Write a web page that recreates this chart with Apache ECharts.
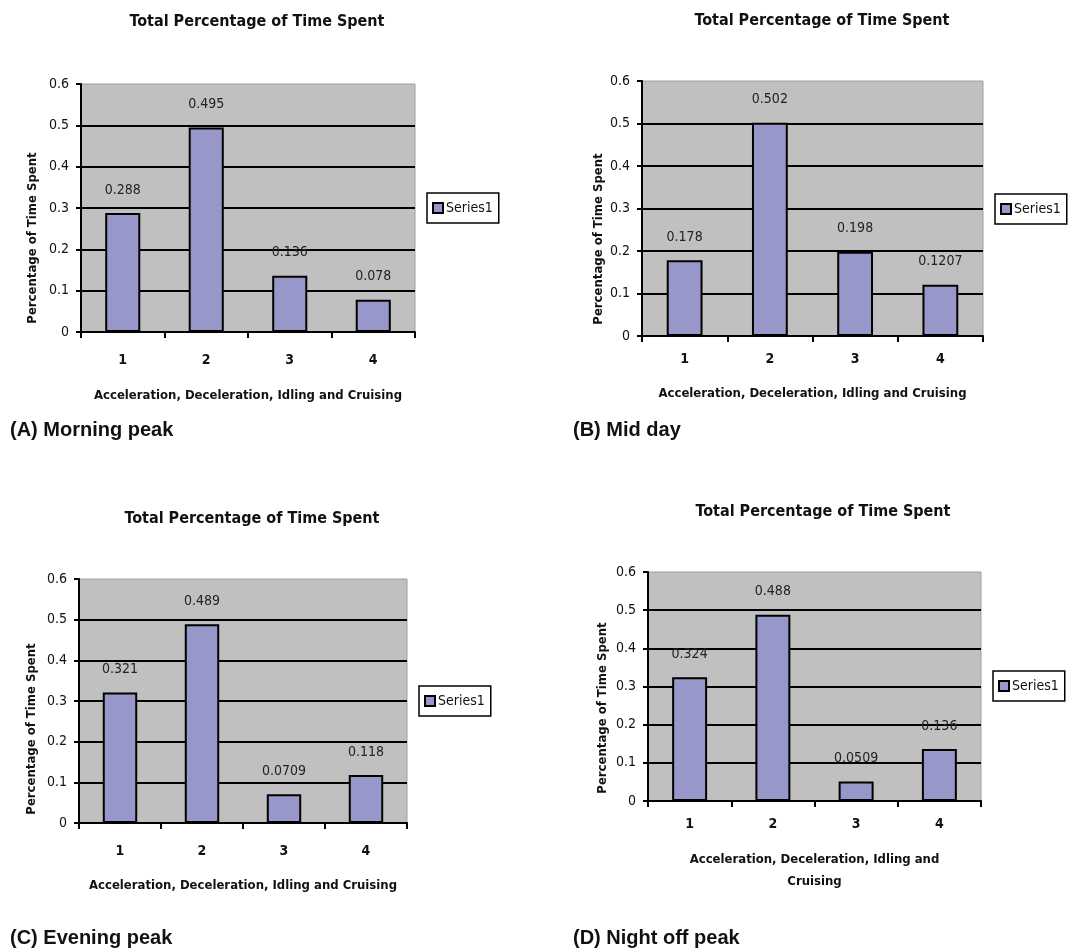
<!DOCTYPE html>
<html>
<head>
<meta charset="utf-8">
<script src="https://cdn.jsdelivr.net/npm/echarts@6/dist/echarts.min.js"></script>
<style>
  html, body { margin: 0; padding: 0; background: #fff; }
  #chart { width: 1081px; height: 951px; }
</style>
</head>
<body>
<div id="chart"></div>
<script>
// Categories: 1 = Acceleration, 2 = Deceleration, 3 = Idling, 4 = Cruising
const categories = ['1', '2', '3', '4'];

// Share of time spent in each driving mode, by period of the day
const morningPeak  = [0.288, 0.495, 0.136, 0.078];
const midDay       = [0.178, 0.502, 0.198, 0.1207];
const eveningPeak  = [0.321, 0.489, 0.0709, 0.118];
const nightOffPeak = [0.324, 0.488, 0.0509, 0.136];

const panelSeries = [morningPeak, midDay, eveningPeak, nightOffPeak];
const captions = ['(A) Morning peak', '(B) Mid day', '(C) Evening peak', '(D) Night off peak'];
const chartTitle = 'Total Percentage of Time Spent';
const xAxisNames = [
  'Acceleration, Deceleration, Idling and Cruising',
  'Acceleration, Deceleration, Idling and Cruising',
  'Acceleration, Deceleration, Idling and Cruising',
  'Acceleration, Deceleration, Idling and\nCruising'
];
const yAxisName = 'Percentage of Time Spent';
const seriesName = 'Series1';

// Layout of the four panels (pixels)
const layout = [
  { grid: [81, 84, 334, 248], title: [257, 14], legend: [427, 193], caption: [10, 420],
    labelMargin: 21, nameGap: 53, yName: [33, 238] },
  { grid: [642, 81, 341, 255], title: [822, 13], legend: [995, 194], caption: [573, 420],
    labelMargin: 16, nameGap: 47, yName: [599, 239] },
  { grid: [79, 579, 328, 244], title: [252, 511], legend: [419, 686], caption: [10, 928],
    labelMargin: 21, nameGap: 52, yName: [32, 729] },
  { grid: [648, 572, 333, 229], title: [823, 504], legend: [993, 671], caption: [573, 928],
    labelMargin: 16, nameGap: 48, yName: [603, 708] }
];

const narrow = "'Liberation Sans Narrow', 'Arial Narrow', 'DejaVu Sans Condensed', sans-serif";
const wide = "'Liberation Sans', Arial, sans-serif";
const barColor = '#9797c9';

const grids = [], xAxes = [], yAxes = [], series = [], titles = [], legends = [], graphics = [];

layout.forEach((p, i) => {
  const [gl, gt, gw, gh] = p.grid;
  grids.push({
    left: gl, top: gt, width: gw, height: gh,
    show: true, backgroundColor: '#c0c0c0',
    borderColor: '#a0a0a0', borderWidth: 1
  });
  xAxes.push({
    type: 'category', gridIndex: i, data: categories,
    boundaryGap: true,
    axisLine: { lineStyle: { color: '#000', width: 2 } },
    axisTick: { show: true, alignWithLabel: false, length: 6, lineStyle: { color: '#000', width: 2 } },
    axisLabel: { margin: p.labelMargin, fontFamily: narrow, fontSize: 14, fontWeight: 'bold', color: '#111' },
    name: xAxisNames[i], nameLocation: 'middle', nameGap: p.nameGap,
    nameTextStyle: { fontFamily: narrow, fontSize: 13, fontWeight: 'bold', color: '#111', lineHeight: 22 }
  });
  yAxes.push({
    type: 'value', gridIndex: i, min: 0, max: 0.6, interval: 0.1,
    axisLine: { show: true, lineStyle: { color: '#000', width: 2 } },
    axisTick: { show: true, length: 5, lineStyle: { color: '#000', width: 2 } },
    axisLabel: { margin: 12, fontFamily: narrow, fontSize: 14, color: '#111' },
    splitLine: { show: true, showMaxLine: false, lineStyle: { color: '#000', width: 2 } }
  });
  series.push({
    type: 'bar', name: seriesName, xAxisIndex: i, yAxisIndex: i,
    data: panelSeries[i], barCategoryGap: '58%',
    itemStyle: { color: barColor, borderColor: '#000', borderWidth: 2 },
    label: { show: true, position: 'top', distance: 16, fontFamily: narrow, fontSize: 14, color: '#222' }
  });
  titles.push({
    text: chartTitle, left: p.title[0], top: p.title[1], textAlign: 'center', padding: 0,
    textStyle: { fontFamily: narrow, fontSize: 16, fontWeight: 'bold', color: '#111' }
  });
  titles.push({
    text: captions[i], left: p.caption[0], top: p.caption[1], padding: 0,
    textStyle: { fontFamily: wide, fontSize: 20, fontWeight: 'bold', color: '#111' }
  });
  legends.push({
    data: [{ name: seriesName, icon: 'rect' }], left: p.legend[0], top: p.legend[1], orient: 'vertical',
    borderColor: '#000', borderWidth: 1.5, padding: [8, 6, 8, 5],
    itemWidth: 10, itemHeight: 10, itemGap: 0,
    textStyle: { fontFamily: narrow, fontSize: 14, color: '#111', padding: [0, 0, 0, -2] }
  });
  // vertical axis title, rotated to read bottom-to-top
  graphics.push({
    type: 'text', x: p.yName[0], y: p.yName[1], rotation: Math.PI / 2,
    style: {
      text: yAxisName, align: 'center', verticalAlign: 'middle',
      font: "bold 13px " + narrow, fill: '#111'
    }
  });
});

const chart = echarts.init(document.getElementById('chart'), null, { renderer: 'canvas' });
chart.setOption({
  backgroundColor: '#fff',
  animation: false,
  title: titles,
  legend: legends,
  grid: grids,
  xAxis: xAxes,
  yAxis: yAxes,
  series: series,
  graphic: graphics
});
</script>
</body>
</html>
